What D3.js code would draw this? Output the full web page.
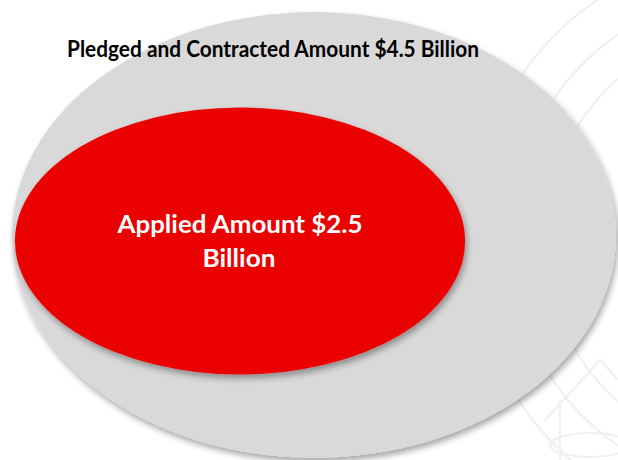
<!DOCTYPE html>
<html>
<head>
<meta charset="utf-8">
<script src="https://cdn.jsdelivr.net/npm/d3@7"></script>
<style>
  html, body { margin: 0; padding: 0; background: #fff; }
  svg { display: block; }
</style>
</head>
<body>
<script>
// Data
const names = ['Pledged and Contracted Amount', 'Applied Amount'];
const values = [4.5, 2.5];           // $ billion
const fills = ['#d9d9d9', '#eb0000'];

const width = 618, height = 460;

const svg = d3.select('body')
              .append('svg')
              .attr('width', width)
              .attr('height', height);

const defs = svg.append('defs');
defs.append('filter')
      .attr('id', 'shadow')
      .attr('x', '-10%').attr('y', '-10%')
      .attr('width', '120%').attr('height', '125%')
    .append('feDropShadow')
      .attr('dx', 2).attr('dy', 4)
      .attr('stdDeviation', 3)
      .attr('flood-color', '#000')
      .attr('flood-opacity', 0.35);

// faint watermark sketch in the background (right side)
const wm = svg.append('g')
              .attr('fill', 'none')
              .attr('stroke', '#f0f0f0')
              .attr('stroke-width', 2);
[[760, 240, 290], [760, 240, 250], [760, 240, 215]].forEach(d => {
    wm.append('circle').attr('cx', d[0]).attr('cy', d[1]).attr('r', d[2]);
});
wm.append('path').attr('d', 'M560 460 L560 400 M545 420 L600 360 L618 380');
wm.append('ellipse').attr('cx', 590).attr('cy', 445).attr('rx', 40).attr('ry', 12);

// Scales: horizontal radius by sqrt of value (area-ish), layout by index
const rx = d3.scaleSqrt().domain([0, d3.max(values)]).range([0, 302]);
const aspect = [0.738, 0.593];
const centers = [[314, 235], [240, 241]];

const data = values.map((v, i) => ({ name: names[i], value: v, fill: fills[i], i }));

svg.selectAll('ellipse.set')
    .data(data)
    .join('ellipse')
      .attr('class', 'set')
      .attr('cx', d => centers[d.i][0])
      .attr('cy', d => centers[d.i][1])
      .attr('rx', d => rx(d.value))
      .attr('ry', d => rx(d.value) * aspect[d.i])
      .attr('fill', d => d.fill)
      .attr('filter', 'url(#shadow)');

const font = 'Lato, "Open Sans", sans-serif';

// outer label
svg.append('text')
    .attr('x', 273)
    .attr('y', 57)
    .attr('text-anchor', 'middle')
    .attr('font-family', font)
    .attr('font-weight', 'bold')
    .attr('font-size', 22.5)
    .attr('fill', '#000')
    .attr('textLength', 412)
    .attr('lengthAdjust', 'spacingAndGlyphs')
    .text(`${names[0]} $${values[0]} Billion`);

// inner label, two lines
const inner = svg.append('text')
    .attr('text-anchor', 'middle')
    .attr('font-family', font)
    .attr('font-weight', 'bold')
    .attr('font-size', 25)
    .attr('fill', '#fff');
inner.append('tspan')
    .attr('x', 240).attr('y', 233)
    .attr('textLength', 245)
    .attr('lengthAdjust', 'spacingAndGlyphs')
    .text(`${names[1]} $${values[1]}`);
inner.append('tspan')
    .attr('x', 239).attr('y', 267)
    .attr('textLength', 73)
    .attr('lengthAdjust', 'spacingAndGlyphs')
    .text('Billion');
</script>
</body>
</html>
